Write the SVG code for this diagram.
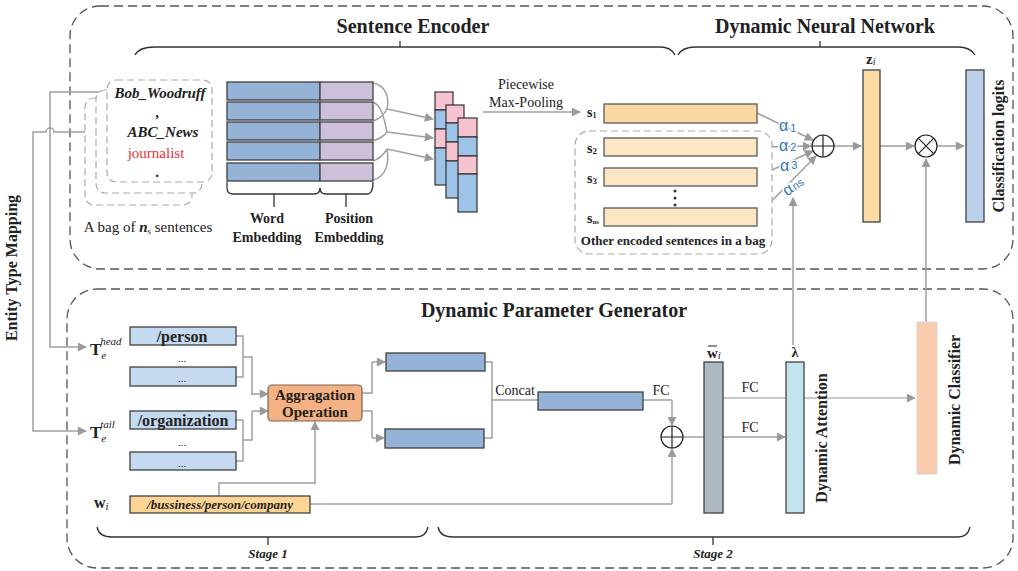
<svg xmlns="http://www.w3.org/2000/svg" width="1018" height="571" viewBox="0 0 1018 571">
<defs>
<marker id="ah" viewBox="0 0 10 10" refX="9" refY="5" markerWidth="10" markerHeight="9" markerUnits="userSpaceOnUse" orient="auto">
<path d="M0,0 L10,5 L0,10 z" fill="#9a9a9a"/>
</marker>
<style>
.t{font-family:"Liberation Serif","Times New Roman",serif;fill:#222}
.b{font-weight:bold}
.i{font-style:italic}
.panel{fill:none;stroke:#555;stroke-width:1.3;stroke-dasharray:9,5}
.bag{fill:#fff;stroke:#aaa;stroke-width:1.2;stroke-dasharray:7,4}
.br{fill:none;stroke:#333;stroke-width:1.3}
.c{fill:none;stroke:#a0a0a0;stroke-width:1.5}
.ca{fill:none;stroke:#a0a0a0;stroke-width:1.5;marker-end:url(#ah)}
.box{stroke:#404040;stroke-width:1.3}
.we{fill:#95b3d7}
.pe{fill:#ccc0da}
.pk{fill:#f6c4d0;stroke:#333;stroke-width:1.2}
.bl{fill:#9dc3e6;stroke:#333;stroke-width:1.2}
.al{font-family:"Liberation Sans",Arial,sans-serif;fill:#2e75b6;font-size:16px;stroke:#fff;stroke-width:3;paint-order:stroke}
.op{fill:#fff;stroke:#222;stroke-width:1.2}
</style>
</defs>

<g id="panels">
<rect class="panel" x="70" y="6" width="943" height="263" rx="30"/>
<rect class="panel" x="67" y="289" width="946" height="279" rx="30"/>
</g>

<g id="titles">
<text class="t b" x="413" y="33" font-size="20" text-anchor="middle">Sentence Encoder</text>
<text class="t b" x="825" y="33" font-size="20" text-anchor="middle">Dynamic Neural Network</text>
<text class="t b" x="554" y="317" font-size="20" text-anchor="middle">Dynamic Parameter Generator</text>
<text class="t b" x="17" y="268" font-size="16" text-anchor="middle" transform="rotate(-90 17 268)">Entity Type Mapping</text>
</g>

<g id="braces">
<path class="br" d="M135,55 Q139,47 155,47 H660 Q671,47 675,55 M400,47 V41"/>
<path class="br" d="M678,55 Q682,47 696,47 H958 Q970,47 975,55 M820,47 V41"/>
<path class="br" d="M97,527 Q99,537 112,537 H416 Q426,537 428,527 M268,537 V545"/>
<path class="br" d="M438,527 Q440,537 453,537 H958 Q968,537 970,527 M713,537 V545"/>
<text class="t b i" x="268" y="558" font-size="13" text-anchor="middle">Stage 1</text>
<text class="t b i" x="713" y="558" font-size="13" text-anchor="middle">Stage 2</text>
</g>

<g id="connectors">
<path class="ca" d="M107,92 H50 V347 H86"/>
<path class="ca" d="M110,132 H54 A4,4 0 0 0 46,132 H33 V431 H86"/>
<path class="c" d="M373,83 C388,86 389,100 387,109 M373,102 C383,106 385,124 387,132 M373,121 C382,118 385,113 387,109 M373,141 C382,138 385,135 387,132 M373,161 C382,158 385,152 387,149 M373,180 C388,176 389,160 387,149"/>
<path class="ca" d="M387,109 L433,119"/>
<path class="ca" d="M387,132 L433,138"/>
<path class="ca" d="M387,149 L433,159"/>
<path class="ca" d="M483,112 H580"/>
<path class="ca" d="M757,113 L813,140"/>
<path class="ca" d="M757,147 L811,146"/>
<path class="ca" d="M757,177 L813,151"/>
<path class="ca" d="M757,216 L816,156"/>
<path class="ca" d="M834,146 H861"/>
<path class="ca" d="M880,146 H914"/>
<path class="ca" d="M937,146 H964"/>
<path class="ca" d="M793,345 V198"/>
<path class="ca" d="M926,322 V159"/>
<path class="c" d="M236,336 H243 V377 H236 M243,357 H252 V395"/>
<path class="ca" d="M252,394 H268"/>
<path class="c" d="M236,420 H243 V461 H236 M243,440 H252 V411"/>
<path class="ca" d="M252,411 H268"/>
<path class="c" d="M219,496 V483 H315"/>
<path class="ca" d="M315,484 V422"/>
<path class="c" d="M362,393 H372 V362"/>
<path class="ca" d="M372,362 H385"/>
<path class="c" d="M362,411 H372 V438"/>
<path class="ca" d="M372,438 H384"/>
<path class="c" d="M485,362 H492 V438 H484 M492,400 H538"/>
<path class="c" d="M643,400 H672"/>
<path class="ca" d="M672,400 V425"/>
<path class="c" d="M310,504 H672"/>
<path class="ca" d="M672,504 V449"/>
<path class="c" d="M683,437 H704"/>
<path d="M723,398 H915" fill="none" stroke="#b8b8b8" stroke-width="1.5" marker-end="url(#ah)"/>
<path class="ca" d="M723,437 H785"/>
<text class="al" x="779" y="131">α<tspan font-size="11" dx="2" dy="1">1</tspan></text>
<text class="al" x="779" y="151">α<tspan font-size="11" dx="2" dy="0">2</tspan></text>
<text class="al" x="780" y="171">α<tspan font-size="11" dx="2" dy="-2">3</tspan></text>
<text class="al" x="782" y="193" transform="rotate(-35 790 187)">α<tspan font-size="11" dx="1">ns</tspan></text>
<text class="t" x="526" y="89" font-size="14" text-anchor="middle">Piecewise</text>
<text class="t" x="526" y="107" font-size="14" text-anchor="middle">Max-Pooling</text>
<text class="t" x="515" y="395" font-size="14" text-anchor="middle">Concat</text>
<text class="t" x="661" y="395" font-size="14" text-anchor="middle">FC</text>
<text class="t" x="750" y="392" font-size="14" text-anchor="middle">FC</text>
<text class="t" x="750" y="432" font-size="14" text-anchor="middle">FC</text>
</g>

<g id="sentence-bag">
<rect class="bag" x="85" y="98" width="107" height="107" rx="9"/>
<rect class="bag" x="96" y="90" width="106" height="103" rx="9"/>
<rect class="bag" x="107" y="80" width="105" height="102" rx="9"/>
<text class="t b i" x="160" y="98" font-size="15" text-anchor="middle">Bob_Woodruff</text>
<text class="t b" x="157" y="117" font-size="15" text-anchor="middle">,</text>
<text class="t b i" x="163" y="137" font-size="15" text-anchor="middle">ABC_News</text>
<text class="t" x="156" y="158" font-size="15" text-anchor="middle" style="fill:#e8303a">journalist</text>
<text class="t b" x="157" y="177" font-size="15" text-anchor="middle">.</text>
<text class="t" x="148" y="232" font-size="15" text-anchor="middle">A bag of <tspan class="b i">n</tspan><tspan font-size="9" dy="2">s</tspan><tspan dy="-2"> sentences</tspan></text>
</g>

<g id="embedding">
<rect class="box we" x="227" y="82" width="93" height="18"/>
<rect class="box pe" x="320" y="82" width="53" height="18"/>
<rect class="box we" x="227" y="102" width="93" height="18"/>
<rect class="box pe" x="320" y="102" width="53" height="18"/>
<rect class="box we" x="227" y="122" width="93" height="18"/>
<rect class="box pe" x="320" y="122" width="53" height="18"/>
<rect class="box we" x="227" y="142" width="93" height="18"/>
<rect class="box pe" x="320" y="142" width="53" height="18"/>
<rect class="box we" x="227" y="163" width="93" height="18"/>
<rect class="box pe" x="320" y="163" width="53" height="18"/>
<path class="br" d="M227,182 V188 Q227,194 233,194 H314 Q320,194 320,188 M274,194 V207"/>
<path class="br" d="M320,188 Q320,194 326,194 H367 Q373,194 373,182 M346,194 V207"/>
<text class="t b" x="267" y="223" font-size="14" text-anchor="middle">Word</text>
<text class="t b" x="267" y="242" font-size="14" text-anchor="middle">Embedding</text>
<text class="t b" x="349" y="223" font-size="14" text-anchor="middle">Position</text>
<text class="t b" x="349" y="242" font-size="14" text-anchor="middle">Embedding</text>
</g>

<g id="feature-maps">
<rect class="pk" x="435" y="92" width="18" height="18"/>
<rect class="bl" x="435" y="110" width="18" height="19"/>
<rect class="pk" x="435" y="129" width="18" height="19"/>
<rect class="bl" x="435" y="148" width="18" height="37"/>
<rect class="pk" x="446" y="105" width="18" height="18"/>
<rect class="bl" x="446" y="123" width="18" height="19"/>
<rect class="pk" x="446" y="142" width="18" height="19"/>
<rect class="bl" x="446" y="161" width="18" height="37"/>
<rect class="pk" x="458" y="118" width="19" height="19"/>
<rect class="bl" x="458" y="137" width="19" height="19"/>
<rect class="pk" x="458" y="156" width="19" height="18"/>
<rect class="bl" x="458" y="174" width="19" height="38"/>
</g>

<g id="sentence-vectors">
<rect x="575" y="131" width="197" height="123" rx="14" class="bag"/>
<rect x="604" y="104" width="153" height="19" fill="#fcd9a2" stroke="#595959" stroke-width="1.3"/>
<rect x="604" y="138" width="153" height="18" fill="#fde6c4" stroke="#595959" stroke-width="1.3"/>
<rect x="604" y="168" width="153" height="18" fill="#fde6c4" stroke="#595959" stroke-width="1.3"/>
<rect x="604" y="208" width="153" height="18" fill="#fde6c4" stroke="#595959" stroke-width="1.3"/>
<text class="t b" x="587" y="117" font-size="14">s<tspan font-size="8" dy="1">1</tspan></text>
<text class="t b" x="587" y="153" font-size="14">s<tspan font-size="9" dy="1">2</tspan></text>
<text class="t b" x="587" y="183" font-size="14">s<tspan font-size="9" dy="1">3</tspan></text>
<text class="t b" x="587" y="223" font-size="14">s<tspan font-size="7" dy="1">ns</tspan></text>
<circle cx="675" cy="191" r="1.5" fill="#333"/>
<circle cx="675" cy="198" r="1.5" fill="#333"/>
<circle cx="675" cy="205" r="1.5" fill="#333"/>
<text class="t b" x="673" y="245" font-size="13" text-anchor="middle">Other encoded sentences in a bag</text>
</g>

<g id="sum-op">
<circle class="op" cx="823" cy="146" r="11"/>
<path d="M812,146 H834 M823,135 V157" stroke="#222" stroke-width="1.2"/>
</g>

<g id="z-vector">
<rect x="863" y="70" width="17" height="152" fill="#fddba5" stroke="#404040" stroke-width="1.3"/>
<text class="t b" x="866" y="64" font-size="15">z<tspan class="i" font-size="10" font-weight="normal" dy="1">i</tspan></text>
</g>

<g id="mul-op">
<circle class="op" cx="926" cy="146" r="11"/>
<path d="M918.2,138.2 L933.8,153.8 M933.8,138.2 L918.2,153.8" stroke="#222" stroke-width="1.2"/>
</g>

<g id="logits">
<rect x="966" y="70" width="18" height="152" fill="#bdd0e9" stroke="#404040" stroke-width="1.3"/>
<text class="t b" x="1004" y="146" font-size="16" text-anchor="middle" transform="rotate(-90 1004 146)">Classification logits</text>
</g>

<g id="type-labels">
<text class="t b" x="90" y="355" font-size="17">T<tspan class="i" font-weight="normal" font-size="11" dy="4">e</tspan><tspan class="i" font-weight="normal" font-size="11" dx="-6" dy="-14">head</tspan></text>
<text class="t b" x="90" y="438" font-size="17">T<tspan class="i" font-weight="normal" font-size="11" dy="4">e</tspan><tspan class="i" font-weight="normal" font-size="11" dx="-6" dy="-14">tail</tspan></text>
<text class="t b" x="94" y="508" font-size="16">w<tspan class="i" font-weight="normal" font-size="11" dy="2">i</tspan></text>
</g>

<g id="head-types">
<rect x="130" y="327" width="106" height="18" fill="#c5d9f1" stroke="#404040" stroke-width="1.3"/>
<text class="t b" x="182" y="342" font-size="16" text-anchor="middle">/person</text>
<text class="t" x="182" y="362" font-size="11" text-anchor="middle">...</text>
<rect x="130" y="367" width="106" height="19" fill="#c5d9f1" stroke="#404040" stroke-width="1.3"/>
<text class="t" x="182" y="382" font-size="11" text-anchor="middle">...</text>
</g>

<g id="tail-types">
<rect x="130" y="411" width="106" height="18" fill="#c5d9f1" stroke="#404040" stroke-width="1.3"/>
<text class="t b" x="183" y="426" font-size="16" text-anchor="middle">/organization</text>
<text class="t" x="182" y="446" font-size="11" text-anchor="middle">...</text>
<rect x="130" y="452" width="106" height="18" fill="#c5d9f1" stroke="#404040" stroke-width="1.3"/>
<text class="t" x="182" y="467" font-size="11" text-anchor="middle">...</text>
</g>

<g id="relation">
<rect x="130" y="496" width="180" height="17" fill="#fcd594" stroke="#404040" stroke-width="1.3"/>
<text class="t b i" x="220" y="509" font-size="13" text-anchor="middle">/bussiness/person/company</text>
</g>

<g id="aggregation">
<rect x="268" y="385" width="94" height="36" rx="4" fill="#f4b183" stroke="#7f6050" stroke-width="1.2"/>
<text class="t b" x="315" y="400" font-size="15" text-anchor="middle">Aggragation</text>
<text class="t b" x="315" y="417" font-size="15" text-anchor="middle">Operation</text>
</g>

<g id="head-vec"><rect x="386" y="353" width="99" height="18" fill="#95b3d7" stroke="#404040" stroke-width="1.3"/></g>
<g id="tail-vec"><rect x="385" y="429" width="99" height="19" fill="#95b3d7" stroke="#404040" stroke-width="1.3"/></g>
<g id="concat-vec"><rect x="538" y="392" width="105" height="18" fill="#95b3d7" stroke="#404040" stroke-width="1.3"/></g>

<g id="add-op">
<circle class="op" cx="672" cy="437" r="11"/>
<path d="M661,437 H683 M672,426 V448" stroke="#222" stroke-width="1.2"/>
</g>

<g id="w-bar">
<rect x="704" y="362" width="19" height="151" fill="#adb9c3" stroke="#404040" stroke-width="1.3"/>
<text class="t b" x="707" y="358" font-size="15">w<tspan class="i" font-weight="normal" font-size="11" dy="1">i</tspan></text>
<path d="M708,346 H717" stroke="#222" stroke-width="1"/>
</g>

<g id="attention">
<rect x="786" y="362" width="18" height="151" fill="#c3e4ef" stroke="#404040" stroke-width="1.3"/>
<text class="t b" x="795" y="357" font-size="14" text-anchor="middle">λ</text>
<text class="t b" x="827" y="438" font-size="16" text-anchor="middle" transform="rotate(-90 827 438)">Dynamic Attention</text>
</g>

<g id="classifier">
<rect x="917" y="322" width="20" height="152" fill="#f8cbad" stroke="#d9d9d9" stroke-width="1.2"/>
<text class="t b" x="960" y="400" font-size="16" text-anchor="middle" transform="rotate(-90 960 400)">Dynamic Classifier</text>
</g>
</svg>
